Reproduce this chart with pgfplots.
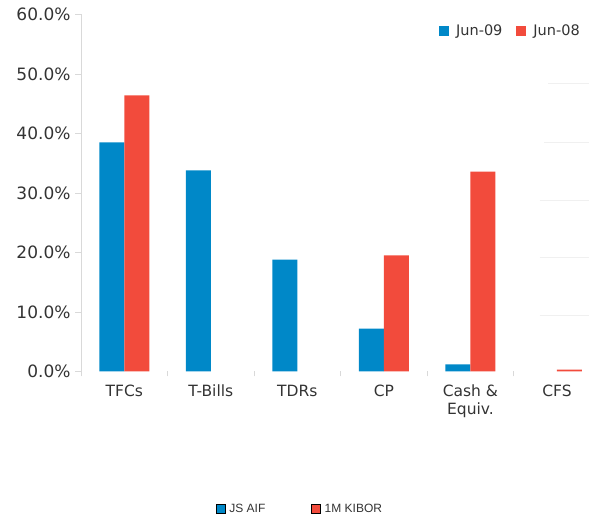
\documentclass[border=0pt]{standalone}
\usepackage{pgfplots}
\pgfplotsset{compat=1.18}
\usepackage{fontspec}
\setmainfont{DejaVu Sans}
\newfontfamily\arialfont{Liberation Sans}
\definecolor{cblue}{HTML}{0088C8}
\definecolor{cred}{HTML}{F24B3C}
\definecolor{ctext}{HTML}{333333}
\definecolor{caxis}{HTML}{D9D9D9}
\begin{document}
\begin{tikzpicture}[x=1bp,y=1bp]
\path[use as bounding box] (0,0) rectangle (589,520);
\begin{axis}[
  at={(81bp,148.5bp)}, anchor=south west,
  scale only axis, width=508bp, height=357bp,
  xmin=-0.5, xmax=5.37, ymin=0, ymax=60,
  ybar=0pt, bar width=25bp,
  axis x line*=bottom, axis y line*=left,
  x axis line style={draw=none},
  y axis line style={caxis, line width=0.8pt},
  xtick={0,1,2,3,4,5},
  xticklabels={TFCs,T-Bills,TDRs,CP,{Cash \&\\Equiv.},CFS},
  x tick label style={align=center, font=\fontsize{15.5bp}{18bp}\selectfont, text=ctext, yshift=-4bp},
  major x tick style={draw=none},
  minor xtick={-0.5,0.5,1.5,2.5,3.5,4.5},
  minor x tick style={caxis, line width=0.8pt},
  minor tick length=5bp,
  ytick={0,10,...,60},
  yticklabel={\pgfmathprintnumber[fixed,fixed zerofill,precision=1]{\tick}\%},
  /pgf/number format/assume math mode=true,
  y tick label style={font=\fontsize{17bp}{20bp}\selectfont, text=ctext, xshift=-1bp},
  major y tick style={caxis, line width=0.8pt},
  major tick length=6bp,
  tick align=outside,
  clip=false,
  legend style={at={(0.992,0.955)}, anchor=east, draw=none, fill=none,
    font=\fontsize{14.5bp}{17bp}\selectfont, text=ctext,
    legend columns=2,
    /tikz/every odd column/.append style={column sep=5bp},
    /tikz/every even column/.append style={column sep=12bp}},
  legend image code/.code={\fill[#1] (0bp,-5bp) rectangle (10bp,5bp);},
]
\addplot[fill=cblue, draw=none] coordinates {(0,38.5) (1,33.8) (2,18.8) (3,7.2) (4,1.2)};
\addplot[fill=cred, draw=none] coordinates {(0,46.4) (3,19.5) (4,33.6) (5,0.3)};
\legend{Jun-09,Jun-08}
\end{axis}
\begin{axis}[
  at={(81bp,148.5bp)}, anchor=south west,
  scale only axis, width=508bp, height=357bp,
  xmin=-0.5, xmax=5.37, ymin=-1.5, ymax=60,
  hide axis, clip=true,
]
\addplot[gray!12, line width=0.8pt, forget plot] coordinates {(4.9,48.1) (5.37,48.1)};
\addplot[gray!12, line width=0.8pt, forget plot] coordinates {(4.85,38.0) (5.37,38.0)};
\addplot[gray!12, line width=0.8pt, forget plot] coordinates {(4.8,27.9) (5.37,27.9)};
\addplot[gray!12, line width=0.8pt, forget plot] coordinates {(4.8,18.2) (5.37,18.2)};
\addplot[gray!12, line width=0.8pt, forget plot] coordinates {(4.8,8.1) (5.37,8.1)};
\addplot[gray!12, line width=0.8pt, forget plot] coordinates {(4.6,-1.8) (5.37,-1.8)};
\end{axis}
\begin{axis}[
  at={(300bp,6bp)}, anchor=south,
  scale only axis, width=10bp, height=10bp,
  hide axis, xmin=0, xmax=1, ymin=0, ymax=1,
  legend style={at={(0.5,0.5)}, anchor=center, draw=none, fill=none,
    font=\arialfont\fontsize{12bp}{14bp}\selectfont, text=ctext,
    legend columns=2,
    /tikz/every odd column/.append style={column sep=2bp},
    /tikz/every even column/.append style={column sep=44bp}},
  legend image code/.code={\fill[#1] (0bp,-4.5bp) rectangle (9bp,4.5bp);},
]
\addlegendimage{fill=cblue}
\addlegendentry{JS AIF}
\addlegendimage{fill=cred}
\addlegendentry{1M KIBOR}
\end{axis}
\end{tikzpicture}
\end{document}
